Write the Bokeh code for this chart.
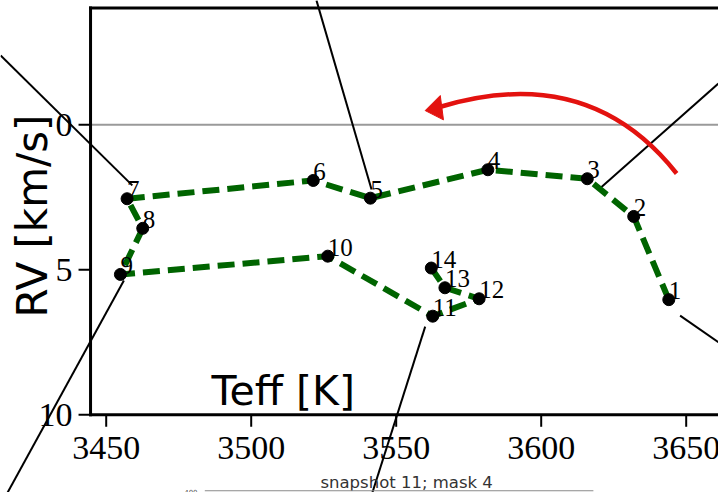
from bokeh.plotting import figure
from bokeh.models import Range1d
from bokeh.core.properties import value
from bokeh.embed import file_html
from bokeh.resources import INLINE

# Track of the 14 snapshots: effective temperature [K] and radial velocity [km/s]
snapshot = [str(i) for i in range(1, 15)]
teff = [3644.0, 3631.9, 3615.9, 3581.6, 3541.1, 3521.4, 3457.2,
        3462.6, 3454.9, 3526.4, 3562.6, 3578.6, 3566.8, 3562.1]
rv = [6.03, 3.16, 1.86, 1.55, 2.53, 1.92, 2.55,
      3.57, 5.16, 4.53, 6.60, 6.00, 5.62, 4.94]

x_ticks = [3450, 3500, 3550, 3600, 3650]
y_ticks = [0, 5, 10]

# thin black connector lines (start -> end)
lead_x0 = [3413.6, 3522.5, 3661.1, 3416.0, 3541.8, 3647.9]
lead_y0 = [-2.39, -4.29, -1.42, 12.68, 12.68, 6.58]
lead_x1 = [3459.0, 3541.5, 3620.7, 3456.1, 3560.0, 3661.1]
lead_y1 = [2.09, 2.23, 2.15, 5.37, 6.96, 7.50]

# red curved arrow: cubic Bezier shaft and triangular head
curve_x = [3646.7, 3630.1, 3604.9, 3565.6]   # start, ctrl1, ctrl2, end
curve_y = [1.68, -0.42, -1.80, -0.63]
head_x = [3560.0, 3565.2, 3566.3]
head_y = [-0.49, -1.01, -0.17]

# axes box of the panel (left, top, bottom); it runs on past the right edge
X_LEFT, Y_TOP, Y_BOTTOM = 3444.6, -4.03, 10.0
# visible window of the page
X_VIEW = (3413.55, 3661.14)
Y_VIEW = (12.68, -4.286)
# data units per screen pixel
DX = (X_VIEW[1] - X_VIEW[0]) / 718.0
DY = (Y_VIEW[0] - Y_VIEW[1]) / 492.0

# alphabetic text sits this fraction of an em low in the svg output
LIFT = 0.36

p = figure(width=718, height=492, output_backend="svg", toolbar_location=None,
           x_range=Range1d(*X_VIEW), y_range=Range1d(*Y_VIEW),
           x_axis_type=None, y_axis_type=None, min_border=0)
p.background_fill_color = "white"
p.border_fill_color = "white"
p.outline_line_color = None
p.grid.visible = False

serif = value("Liberation Serif")
sans = value("DejaVu Sans")


def label(x, y, text, font, size, align="left", angle=0.0, color="black"):
    """Text anchored on its alphabetic baseline."""
    if angle:
        dx, dy = -LIFT * size, 0.0
    else:
        dx, dy = 0.0, -LIFT * size
    p.text(x=x, y=y, text=text, angle=angle, text_font=font, text_font_size=f"{size}px",
           text_align=align, text_baseline="alphabetic", text_color=color,
           x_offset=dx, y_offset=dy)


# zero-velocity reference
p.segment(x0=[X_LEFT], y0=[0], x1=[X_VIEW[1]], y1=[0], line_color="#9a9a9a", line_width=2)

# axes box
p.segment(x0=[X_LEFT, X_LEFT, X_LEFT], y0=[Y_TOP, Y_BOTTOM, Y_TOP],
          x1=[X_LEFT, X_VIEW[1], X_VIEW[1]], y1=[Y_BOTTOM, Y_BOTTOM, Y_TOP],
          line_color="black", line_width=3, line_cap="square")

# ticks (12 px long, pointing out of the box)
tick = 12
p.segment(x0=x_ticks, y0=[Y_BOTTOM] * len(x_ticks), x1=x_ticks,
          y1=[Y_BOTTOM + tick * DY] * len(x_ticks), line_color="black", line_width=2)
p.segment(x0=[X_LEFT] * len(y_ticks), y0=y_ticks, x1=[X_LEFT - tick * DX] * len(y_ticks),
          y1=y_ticks, line_color="black", line_width=2)

# tick labels
label(x_ticks, [Y_BOTTOM + 45.7 * DY] * len(x_ticks), [str(t) for t in x_ticks],
      serif, 34, align="center")
label([X_LEFT - 18 * DX] * len(y_ticks), [t + 12.5 * DY for t in y_ticks],
      [str(t) for t in y_ticks], serif, 34, align="right")

# axis labels
label([3429.8], [3.145], ["RV [km/s]"], sans, 42, align="center", angle=1.5707963)
label([3486.3], [9.69], ["Teff [K]"], sans, 41)

# connector lines
p.segment(x0=lead_x0, y0=lead_y0, x1=lead_x1, y1=lead_y1, line_color="black", line_width=2)

# snapshot track
p.line(teff, rv, line_color="#006400", line_width=6, line_dash="17 8")
p.scatter(teff, rv, size=12, fill_color="black", line_color="black")
label(teff, rv, snapshot, serif, 25)

# red arrow
red = "#e3120f"
p.bezier(x0=[curve_x[0]], y0=[curve_y[0]], x1=[curve_x[3]], y1=[curve_y[3]],
         cx0=[curve_x[1]], cy0=[curve_y[1]], cx1=[curve_x[2]], cy1=[curve_y[2]],
         line_color=red, line_width=4.5)
p.patch(head_x, head_y, fill_color=red, line_color=red, line_width=1)

# caption and axis line of the panel below
label([3553.6], [12.54], ["snapshot 11; mask 4"], sans, 16.5, align="center", color="#333333")
p.segment(x0=[3484.0], y0=[12.62], x1=[3618.0], y1=[12.62], line_color="#8a8a8a", line_width=1)
label([3481.5], [12.62 + 4 * DY], ["400"], sans, 7, align="right", color="#555555")

open("out.html", "w").write(file_html(p, INLINE))
